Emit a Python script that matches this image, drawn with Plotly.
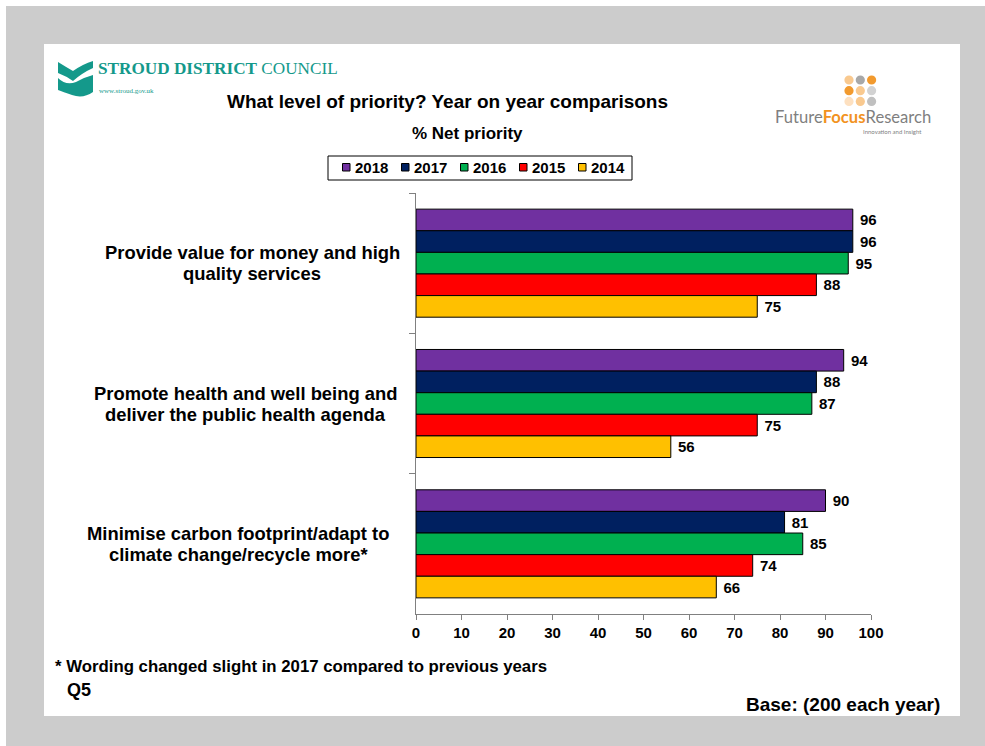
import re
import plotly.graph_objects as go

# ---- data ----
categories = [
    "Provide value for money and high quality services",
    "Promote health and well being and deliver the public health agenda",
    "Minimise carbon footprint/adapt to climate change/recycle more*",
]
category_lines = [
    ["Provide value for money and high", "quality services"],
    ["Promote health and well being and", "deliver the public health agenda"],
    ["Minimise carbon footprint/adapt to", "climate change/recycle more*"],
]
years = ["2018", "2017", "2016", "2015", "2014"]
colors = ["#7030A0", "#002060", "#00B050", "#FF0000", "#FFC000"]
values = {
    "2018": [96, 94, 90],
    "2017": [96, 88, 81],
    "2016": [95, 87, 85],
    "2015": [88, 75, 74],
    "2014": [75, 56, 66],
}
x_ticks = list(range(0, 101, 10))

# ---- page geometry (pixels) ----
W, H = 985, 746
L, R, T, B = 416, 871, 193, 614


def px(x):
    return (x - L) / (R - L)


def py(y):
    return (B - y) / (B - T)


FONT = "Liberation Sans, Arial, sans-serif"
SERIF = "Liberation Serif, Times New Roman, serif"
TEAL = "#14998b"

fig = go.Figure()
for yr, col in zip(years, colors):
    fig.add_trace(go.Bar(
        y=categories,
        x=values[yr],
        name=yr,
        orientation="h",
        marker=dict(color=col, line=dict(color="#000000", width=1)),
        text=values[yr],
        texttemplate=" <b>%{x}</b>",
        textposition="outside",
        textfont=dict(family=FONT, size=15, color="#000000"),
        constraintext="none",
        cliponaxis=False,
        showlegend=False,
        hoverinfo="skip",
    ))

shapes = []
annotations = []

# grey frame and white slide
shapes.append(dict(type="rect", xref="paper", yref="paper",
                   x0=px(6), x1=px(W + 5), y0=py(H + 5), y1=py(6),
                   fillcolor="#cccccc", line=dict(width=0), layer="below"))
shapes.append(dict(type="rect", xref="paper", yref="paper",
                   x0=px(44), x1=px(960), y0=py(716), y1=py(44),
                   fillcolor="#ffffff", line=dict(width=0), layer="below"))

# legend box
shapes.append(dict(type="rect", xref="paper", yref="paper",
                   x0=px(328), x1=px(632), y0=py(180), y1=py(156),
                   fillcolor="#ffffff", line=dict(color="#000000", width=1)))
for i, (yr, col) in enumerate(zip(years, colors)):
    sx = 342.5 + i * 59.0
    shapes.append(dict(type="rect", xref="paper", yref="paper",
                       x0=px(sx), x1=px(sx + 7.5), y0=py(171), y1=py(163.5),
                       fillcolor=col, line=dict(color="#000000", width=1)))
    annotations.append(dict(xref="paper", yref="paper", x=px(sx + 10), y=py(167.5),
                            text="<b>%s</b>" % yr, showarrow=False,
                            xanchor="left", yanchor="middle",
                            font=dict(family=FONT, size=15, color="#000000")))

# category labels: two centred lines per group
label_centres = [252, 245, 238]
for cat, lines, cx in zip(categories, category_lines, label_centres):
    for k, line in enumerate(lines):
        annotations.append(dict(xref="paper", yref="y", x=px(cx), y=cat,
                                yshift=10.5 - 21 * k,
                                text="<b>%s</b>" % line, showarrow=False,
                                xanchor="center", yanchor="middle", align="center",
                                font=dict(family=FONT, size=18.4, color="#000000")))

# titles
annotations.append(dict(xref="paper", yref="paper", x=px(447), y=py(102),
                        text="<b>What level of priority? Year on year comparisons</b>",
                        showarrow=False, xanchor="center", yanchor="middle",
                        font=dict(family=FONT, size=19, color="#000000")))
annotations.append(dict(xref="paper", yref="paper", x=px(467), y=py(133),
                        text="<b>% Net priority</b>",
                        showarrow=False, xanchor="center", yanchor="middle",
                        font=dict(family=FONT, size=17, color="#000000")))

# footer
annotations.append(dict(xref="paper", yref="paper", x=px(53), y=py(666),
                        text="<b>* Wording changed slight in 2017 compared to previous years</b>",
                        showarrow=False, xanchor="left", yanchor="middle",
                        font=dict(family=FONT, size=16.8, color="#000000")))
annotations.append(dict(xref="paper", yref="paper", x=px(65), y=py(690),
                        text="<b>Q5</b>", showarrow=False, xanchor="left", yanchor="middle",
                        font=dict(family=FONT, size=18, color="#000000")))
annotations.append(dict(xref="paper", yref="paper", x=px(942), y=py(704),
                        text="<b>Base: (200 each year)</b>", showarrow=False,
                        xanchor="right", yanchor="middle",
                        font=dict(family=FONT, size=19, color="#000000")))

# council emblem, outlined in pixel coordinates
upper = "M58,62 Q66,67 73,71 Q83,64 93,61 L93,68 Q82,73 73,81 Q66,76 58,73 Z"
lower = "M58,78 Q66,86 76,82 Q85,77 93,75 L93,92 Q83,99 72,95 Q63,92 58,90 Z"


def to_paper_path(p):
    res = []
    for cmd, body in re.findall(r"([A-Za-z])([^A-Za-z]*)", p):
        nums = [float(v) for v in re.findall(r"-?\d+(?:\.\d+)?", body)]
        pts = ["%.5f,%.5f" % (px(nums[k]), py(nums[k + 1]))
               for k in range(0, len(nums), 2)]
        res.append(cmd + " ".join(pts))
    return " ".join(res)


for p in (upper, lower):
    shapes.append(dict(type="path", xref="paper", yref="paper",
                       path=to_paper_path(p), fillcolor=TEAL, line=dict(width=0)))

annotations.append(dict(xref="paper", yref="paper", x=px(96), y=py(69),
                        text="<b>STROUD DISTRICT</b> COUNCIL", showarrow=False,
                        xanchor="left", yanchor="middle",
                        font=dict(family=SERIF, size=17.2, color=TEAL)))
annotations.append(dict(xref="paper", yref="paper", x=px(97), y=py(91),
                        text="www.stroud.gov.uk", showarrow=False,
                        xanchor="left", yanchor="middle",
                        font=dict(family=SERIF, size=7, color=TEAL)))

# research agency mark: 3x3 dots and wordmark
dot_cols = [
    ["#f9c98f", "#a8a8a8", "#f29a2e"],
    ["#f29a2e", "#f9c98f", "#d2d2d2"],
    ["#fde0c0", "#f9c98f", "#c0c0c0"],
]
for r, row in enumerate(dot_cols):
    for c, col in enumerate(row):
        cx, cy = 849 + c * 11.3, 80 + r * 10.7
        shapes.append(dict(type="circle", xref="paper", yref="paper",
                           x0=px(cx - 4.6), x1=px(cx + 4.6),
                           y0=py(cy + 4.6), y1=py(cy - 4.6),
                           fillcolor=col, line=dict(width=0)))
annotations.append(dict(xref="paper", yref="paper", x=px(933), y=py(117),
                        text="<span style='color:#7f7f7f'>Future</span>"
                             "<b><span style='color:#f29221'>Focus</span></b>"
                             "<span style='color:#7f7f7f'>Research</span>",
                        showarrow=False, xanchor="right", yanchor="middle",
                        font=dict(family="Lato, Open Sans, sans-serif", size=16.6)))
annotations.append(dict(xref="paper", yref="paper", x=px(924), y=py(131.5),
                        text="Innovation and Insight", showarrow=False,
                        xanchor="right", yanchor="middle",
                        font=dict(family="Lato, sans-serif", size=6, color="#7f7f7f")))

fig.update_layout(
    width=W, height=H,
    margin=dict(l=L, r=W - R, t=T, b=H - B, pad=0),
    paper_bgcolor="#ffffff",
    plot_bgcolor="rgba(0,0,0,0)",
    barmode="group",
    bargap=0.23,
    bargroupgap=0,
    font=dict(family=FONT, color="#000000"),
    xaxis=dict(range=[0, 100], tickmode="array", tickvals=x_ticks,
               ticktext=["<b>%d</b>" % v for v in x_ticks],
               ticks="outside", ticklen=5, tickcolor="#808080",
               showline=True, linecolor="#808080", linewidth=1,
               showgrid=False, zeroline=False,
               tickfont=dict(family=FONT, size=15, color="#000000")),
    yaxis=dict(autorange="reversed", type="category",
               showticklabels=False, ticks="outside", ticklen=6,
               tickson="boundaries", tickcolor="#808080",
               showline=True, linecolor="#808080", linewidth=1,
               showgrid=False, zeroline=False),
    shapes=shapes,
    annotations=annotations,
)

fig.write_html("out.html")
